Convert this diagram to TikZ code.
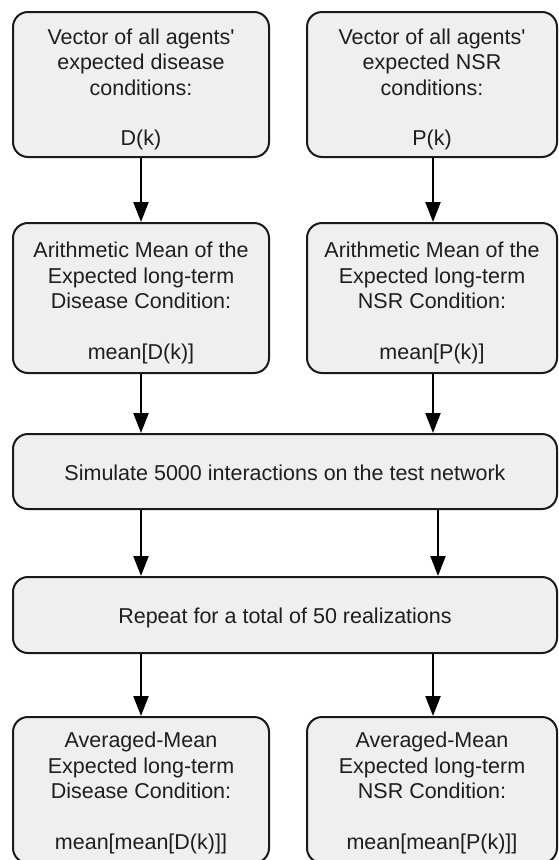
\documentclass[tikz,border=0pt]{standalone}
\usepackage{fontspec}
\setmainfont{Liberation Sans}
\usetikzlibrary{arrows.meta}
\definecolor{boxfill}{HTML}{EFEFEF}
\definecolor{boxline}{HTML}{1A1A1A}
\definecolor{txt}{HTML}{1E1E1E}
\newcommand{\apos}{\textquotesingle}
\begin{document}
\begin{tikzpicture}[x=1pt,y=-1pt,
  flowbox/.style={draw=boxline, fill=boxfill, line width=2pt, rounded corners=15pt,
    rectangle, inner sep=0pt},
  colbox/.style={flowbox, minimum width=256pt},
  rcolbox/.style={flowbox, minimum width=250pt},
  widebox/.style={flowbox, minimum width=544pt},
  boxtext/.style={inner sep=0pt, align=center, text=txt,
    font=\fontsize{21.5}{25.5}\selectfont},
  flowarrow/.style={draw=black, line width=2.3pt,
    -{Triangle[width=15pt,length=20pt]}}]
\useasboundingbox (0,0) rectangle (558,860);

% top row: input vectors
\node[colbox, minimum height=145pt] (vecD) at (141,84.5) {};
\node[rcolbox, minimum height=145pt] (vecP) at (432,84.5) {};
\node[boxtext] (vecDt) at ([yshift=-5pt]vecD.center)
  {Vector of all agents\apos\\expected disease\\conditions:\\[25pt]D(k)};
\node[boxtext] (vecPt) at ([yshift=-5pt]vecP.center)
  {Vector of all agents\apos\\expected NSR\\conditions:\\[25pt]P(k)};

% second row: arithmetic means
\node[colbox, minimum height=150pt] (meanD) at (141,298) {};
\node[rcolbox, minimum height=150pt] (meanP) at (432,298) {};
\node[boxtext] (meanDt) at ([yshift=-5pt]meanD.center)
  {Arithmetic Mean of the\\Expected long-term\\Disease Condition:\\[25pt]mean[D(k)]};
\node[boxtext] (meanPt) at ([yshift=-5pt]meanP.center)
  {Arithmetic Mean of the\\Expected long-term\\NSR Condition:\\[25pt]mean[P(k)]};

% shared steps
\node[widebox, minimum height=75pt] (sim) at (285,471.5) {};
\node[boxtext] (simt) at ([yshift=-1pt]sim.center)
  {Simulate 5000 interactions on the test network};
\node[widebox, minimum height=76pt] (rep) at (285,615) {};
\node[boxtext] (rept) at ([yshift=-3pt]rep.center)
  {Repeat for a total of 50 realizations};

% bottom row: averaged means
\node[colbox, minimum height=146pt] (avgD) at (141,790) {};
\node[rcolbox, minimum height=146pt] (avgP) at (432,790) {};
\node[boxtext] (avgDt) at ([yshift=-3pt]avgD.center)
  {Averaged-Mean\\Expected long-term\\Disease Condition:\\[25pt]mean[mean[D(k)]]};
\node[boxtext] (avgPt) at ([yshift=-3pt]avgP.center)
  {Averaged-Mean\\Expected long-term\\NSR Condition:\\[25pt]mean[mean[P(k)]]};

% helper points on the shared boxes
\coordinate (simL) at (sim.south -| meanD.south);
\coordinate (simR) at ([xshift=6pt]sim.south -| meanP.south);
\coordinate (repL) at (rep.north -| meanD.south);
\coordinate (repR) at ([xshift=6pt]rep.north -| meanP.south);

% connectors
\draw[flowarrow] (vecD.south) -- (meanD.north);
\draw[flowarrow] ([xshift=1pt]vecP.south) -- ([xshift=1pt]meanP.north);
\draw[flowarrow] (meanD.south) -- (sim.north -| meanD.south);
\draw[flowarrow] ([xshift=1pt]meanP.south) -- ([xshift=1pt]sim.north -| meanP.south);
\draw[flowarrow] (simL) -- (repL);
\draw[flowarrow] (simR) -- (repR);
\draw[flowarrow] (rep.south -| avgD.north) -- (avgD.north);
\draw[flowarrow] ([xshift=1pt]rep.south -| avgP.north) -- ([xshift=1pt]avgP.north);
\end{tikzpicture}
\end{document}
